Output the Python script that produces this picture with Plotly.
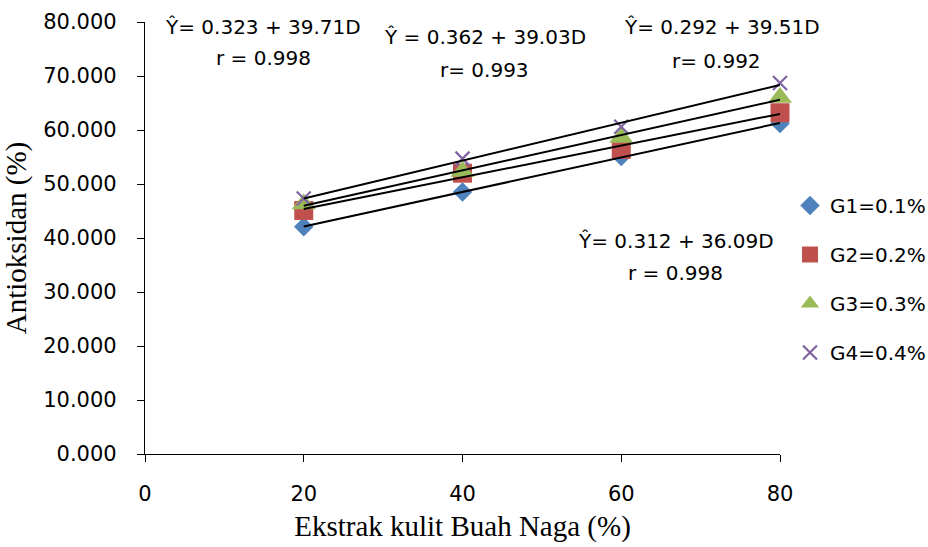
import numpy as np
import plotly.graph_objects as go

# ---- data ----
x_ekstrak = [20, 40, 60, 80]
g1 = [42.1, 48.5, 55.1, 61.2]
g2 = [45.1, 52.0, 56.4, 63.2]
g3 = [46.3, 52.3, 58.6, 66.0]
g4 = [47.3, 54.7, 60.6, 68.7]
series_names = ["G1=0.1%", "G2=0.2%", "G3=0.3%", "G4=0.4%"]
eq_texts = ["Ŷ= 0.323 + 39.71D", "r = 0.998",
            "Ŷ = 0.362 + 39.03D", "r= 0.993",
            "Ŷ= 0.292 + 39.51D", "r= 0.992",
            "Ŷ= 0.312 + 36.09D", "r = 0.998"]

# ---- style ----
colors = ["#4F81BD", "#C0504D", "#9BBB59", "#8064A2"]
symbols = ["diamond", "square", "triangle-up", "x-thin"]
sizes = [15, 19, 21, 14]

W, H = 928, 547
L, R, T, B = 145, 148, 22, 93
pw, ph = W - L - R, H - T - B


def px2paper(px, py):
    return (px - L) / pw, (H - B - py) / ph


fig = go.Figure()
series = [g1, g2, g3, g4]
for i, ys in enumerate(series):
    if symbols[i] == "x-thin":
        marker = dict(symbol="x-thin", size=sizes[i], color=colors[i],
                      line=dict(color=colors[i], width=2.2))
    else:
        marker = dict(symbol=symbols[i], size=sizes[i], color=colors[i],
                      line=dict(width=0))
    fig.add_trace(go.Scatter(x=x_ekstrak, y=ys, mode="markers", name=series_names[i],
                             marker=marker, legendgroup=f"g{i}", cliponaxis=False))

for i, ys in enumerate(series):
    m, c = np.polyfit(x_ekstrak, ys, 1)
    xs = [x_ekstrak[0], x_ekstrak[-1]]
    fig.add_trace(go.Scatter(x=xs, y=[m * v + c for v in xs], mode="lines",
                             line=dict(color="black", width=2), showlegend=False,
                             hoverinfo="skip"))

ann_pos = [(263, 27), (263, 58), (485, 37), (484, 70),
           (722, 27), (716, 61), (676, 241), (675, 273)]
for t, (ax_, ay_) in zip(eq_texts, ann_pos):
    xp, yp = px2paper(ax_, ay_)
    fig.add_annotation(x=xp, y=yp, xref="paper", yref="paper", text=t, showarrow=False,
                       xanchor="center", yanchor="middle",
                       font=dict(family="DejaVu Sans", size=20, color="black"))

lx, ly = px2paper(790, 186)
fig.update_layout(
    width=W, height=H, margin=dict(l=L, r=R, t=T, b=B, autoexpand=False),
    paper_bgcolor="white", plot_bgcolor="white",
    showlegend=True,
    legend=dict(x=lx, y=ly, xanchor="left", yanchor="top", tracegroupgap=20,
                font=dict(family="DejaVu Sans", size=20, color="black"),
                bgcolor="rgba(0,0,0,0)", itemwidth=30),
    xaxis=dict(range=[0, 80], dtick=20, tick0=0, showgrid=False, zeroline=False,
               showline=True, linecolor="black", linewidth=1.3,
               ticks="outside", ticklen=7, tickcolor="black",
               ticklabelstandoff=14,
               tickfont=dict(family="DejaVu Sans", size=21, color="black"),
               title=dict(text="Ekstrak kulit Buah Naga (%)", standoff=10,
                          font=dict(family="Liberation Serif", size=29, color="black"))),
    yaxis=dict(range=[0, 80], dtick=10, tick0=0, tickformat=".3f", showgrid=False,
               zeroline=False, showline=True, linecolor="black", linewidth=1.3,
               ticks="outside", ticklen=7, tickcolor="black",
               ticklabelstandoff=16,
               tickfont=dict(family="DejaVu Sans", size=21, color="black"),
               title=dict(text="Antioksidan (%)", standoff=8,
                          font=dict(family="Liberation Serif", size=29, color="black"))),
)

fig.write_html("out.html")
